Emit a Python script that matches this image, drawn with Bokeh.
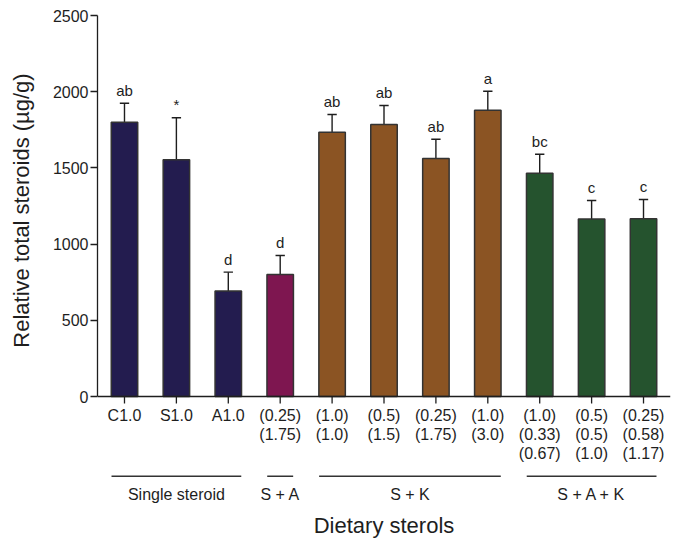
from bokeh.plotting import figure
from bokeh.layouts import column
from bokeh.models import Range1d, FixedTicker, ColumnDataSource
from bokeh.core.properties import value
from bokeh.embed import file_html
from bokeh.resources import INLINE

# ---- data ----
tick_labels = ["C1.0", "S1.0", "A1.0", "(0.25)\n(1.75)", "(1.0)\n(1.0)", "(0.5)\n(1.5)",
               "(0.25)\n(1.75)", "(1.0)\n(3.0)", "(1.0)\n(0.33)\n(0.67)",
               "(0.5)\n(0.5)\n(1.0)", "(0.25)\n(0.58)\n(1.17)"]
means = [1800, 1553, 693, 800, 1734, 1785, 1562, 1879, 1465, 1164, 1166]
errors = [124, 276, 123, 125, 116, 124, 126, 124, 125, 122, 127]
letters = ["ab", "*", "d", "d", "ab", "ab", "ab", "a", "bc", "c", "c"]
groups = ["Single steroid", "S + A", "S + K", "S + A + K"]
group_members = [[0, 1, 2], [3], [4, 5, 6, 7], [8, 9, 10]]
group_colors = ["#231c4f", "#7e1650", "#8b5423", "#25532e"]
y_ticks = [0, 500, 1000, 1500, 2000, 2500]

FONT = "Liberation Sans"
TXT = "#1e1e1e"

bar_colors = [None] * len(means)
for gi, mem in enumerate(group_members):
    for i in mem:
        bar_colors[i] = group_colors[gi]

W = 678
TOP, ZERO, SPLIT, BOTTOM = 15, 396, 405, 541   # screen rows
s = 2500 / (ZERO - TOP)                          # data units per pixel
xr = Range1d(-0.52, 10.52)

# ---------- top figure: bars ----------
p = figure(width=W, height=SPLIT, output_backend="svg", toolbar_location=None,
           x_range=xr, y_range=Range1d(-(SPLIT - ZERO) * s, 2500),
           x_axis_location=None, min_border_left=97, min_border_right=8,
           min_border_top=TOP, min_border_bottom=0)
p.outline_line_color = None
p.grid.visible = False

ax = p.yaxis[0]
ax.bounds = (0, 2500)
ax.ticker = FixedTicker(ticks=y_ticks)
ax.minor_tick_line_color = None
ax.major_tick_in = 0
ax.major_tick_out = 7
ax.major_label_standoff = 2
ax.axis_line_width = 1.3
ax.major_tick_line_width = 1.3
ax.axis_line_color = TXT
ax.major_tick_line_color = TXT
ax.major_label_text_font = FONT
ax.major_label_text_font_size = "16px"
ax.major_label_text_color = TXT
ax.axis_label = "Relative total steroids (\u00b5g/g)"
ax.axis_label_text_font = FONT
ax.axis_label_text_font_size = "22px"
ax.axis_label_text_font_style = "normal"
ax.axis_label_text_color = TXT
ax.axis_label_standoff = 16

xs = list(range(len(means)))
etop = [m + e for m, e in zip(means, errors)]
src = ColumnDataSource(dict(x=xs, top=means, color=bar_colors, etop=etop,
                            ltop=[t + 13 * s for t in etop], ltxt=letters))

p.segment(x0="x", y0="top", x1="x", y1="etop", source=src, line_color=TXT, line_width=1.4)
cap = 0.09
p.segment(x0=[x - cap for x in xs], y0=etop, x1=[x + cap for x in xs],
          y1=etop, line_color=TXT, line_width=1.4)

p.vbar(x="x", top="top", bottom=0, width=0.51, source=src, fill_color="color",
       line_color="#333333", line_width=1.5)

# baseline + x ticks
p.segment(x0=[-0.52], y0=[0], x1=[10.52], y1=[0], line_color=TXT, line_width=1.3)
p.segment(x0=xs, y0=[0] * len(xs), x1=xs, y1=[-7 * s] * len(xs),
          line_color=TXT, line_width=1.3)

p.text(x="x", y="ltop", text="ltxt", source=src,
       text_align="center", text_baseline="alphabetic", text_font=value(FONT),
       text_font_size="15px", text_color=TXT)

# ---------- bottom figure: category labels ----------
q = figure(width=W, height=BOTTOM - SPLIT, output_backend="svg", toolbar_location=None,
           x_range=xr, y_range=Range1d(-(BOTTOM - ZERO), -(SPLIT - ZERO)),
           x_axis_location=None, y_axis_location=None, min_border_left=97,
           min_border_right=8, min_border_top=0, min_border_bottom=0)
q.outline_line_color = None
q.grid.visible = False

tx, ty, tt = [], [], []
for i, lab in enumerate(tick_labels):
    for k, line in enumerate(lab.split("\n")):
        tx.append(i)
        ty.append(-(415 + 19 * k - ZERO))
        tt.append(line)
q.text(x=tx, y=ty, text=tt, text_align="center", text_baseline="middle",
       text_font=value(FONT), text_font_size="16px", text_color=TXT)

gx0 = [min(m) - 0.25 for m in group_members]
gx1 = [max(m) + 0.25 for m in group_members]
gy = -(475.7 - ZERO)
q.segment(x0=gx0, y0=[gy] * 4, x1=gx1, y1=[gy] * 4, line_color="#333333", line_width=1.4)
q.text(x=[sum(m) / len(m) for m in group_members], y=[-(494 - ZERO)] * 4,
       text=groups, text_align="center", text_baseline="middle",
       text_font=value(FONT), text_font_size="16px", text_color=TXT)

q.text(x=[5], y=[-(525 - ZERO)], text=["Dietary sterols"], text_align="center",
       text_baseline="middle", text_font=value(FONT), text_font_size="22px", text_color=TXT)

layout = column(p, q, spacing=0)
open("out.html", "w").write(file_html(layout, INLINE))
